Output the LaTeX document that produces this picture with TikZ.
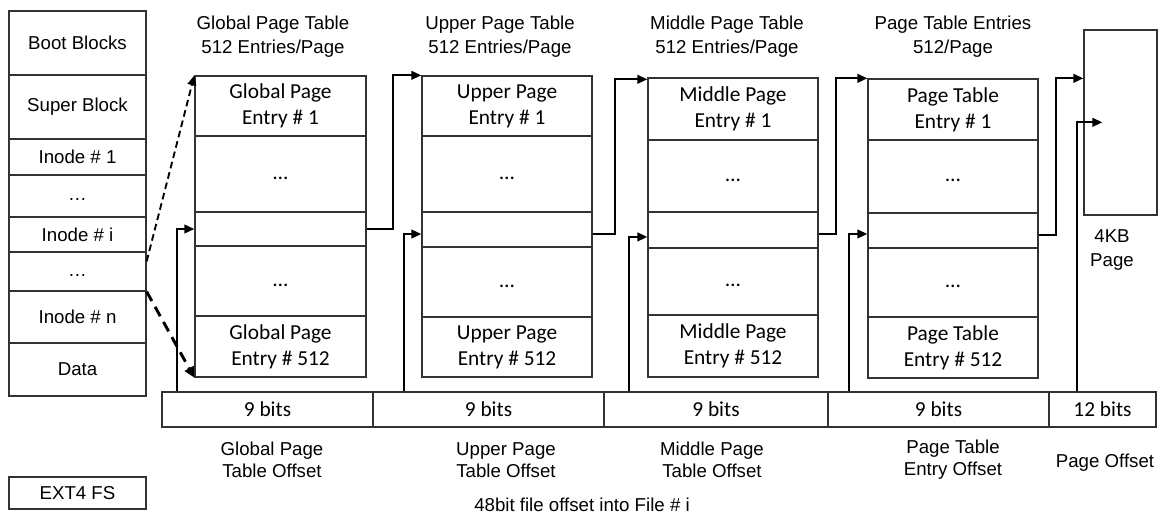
\documentclass[tikz,border=0pt]{standalone}
\usepackage{fontspec}
\setmainfont{Liberation Sans}
\newfontfamily\calfont{Carlito}
\usetikzlibrary{arrows.meta,calc}

% \cellat{style}{name}{x1}{y1}{x2}{y2}{text}: a box spanning two corners, text centred
\newcommand\cellat[7]{%
  \pgfmathsetmacro\cellw{(#5-#3)*0.75}%
  \pgfmathsetmacro\cellh{(#6-#4)*0.75}%
  \node[#1, minimum width=\cellw pt, minimum height=\cellh pt] (#2)
    at ({(#3+#5)/2},{(#4+#6)/2}) {#7};}

\begin{document}
\begin{tikzpicture}[x=0.75pt,y=-0.75pt,
  cell/.style={draw=black!80, line width=1pt, inner sep=0pt, align=center,
    font=\fontsize{14}{18}\selectfont},
  entry/.style={cell, font=\calfont\fontsize{16}{19.5}\selectfont},
  txt/.style={inner sep=0pt, align=center, font=\fontsize{14}{18}\selectfont},
  link/.style={line width=1.5pt, -{Triangle[length=7.5pt,width=6.5pt]}},
  fslink/.style={line width=1.4pt, dash pattern=on 5pt off 3pt, -{Triangle[length=7.5pt,width=6.5pt]}},
  fslinkb/.style={line width=2.2pt, dash pattern=on 8pt off 5pt, -{Triangle[length=8pt,width=7.5pt]}}
]
\useasboundingbox (0,0) rectangle (1160,514);

% file system layout
\cellat{cell}{boot}{9}{11}{146}{75}{Boot Blocks}
\cellat{cell}{super}{9}{75}{146}{139}{Super Block}
\cellat{cell}{ino1}{9}{139}{146}{175}{Inode \# 1}
\cellat{cell}{idots1}{9}{175}{146}{217}{\strut…}
\cellat{cell}{inoi}{9}{217}{146}{252}{Inode \# i}
\cellat{cell}{idots2}{9}{252}{146}{291}{\strut…}
\cellat{cell}{inon}{9}{291}{146}{343}{Inode \# n}
\cellat{cell}{data}{9}{343}{146}{396}{Data}
\cellat{cell}{ext4}{9}{477}{146}{509}{EXT4 FS}

% global page table
\node[txt] (gtitle) at (273,37) {Global Page Table\\512 Entries/Page};
\cellat{entry}{g1}{195}{76}{366}{136}{Global Page\\Entry \# 1}
\cellat{entry}{g2}{195}{136}{366}{212}{\strut…}
\cellat{entry}{g3}{195}{212}{366}{246}{}
\cellat{entry}{g4}{195}{246}{366}{316}{\strut…}
\cellat{entry}{g5}{195}{316}{366}{377}{Global Page\\Entry \# 512}

% upper page table
\node[txt] (utitle) at (500,37) {Upper Page Table\\512 Entries/Page};
\cellat{entry}{u1}{422}{76}{592}{136}{Upper Page\\Entry \# 1}
\cellat{entry}{u2}{422}{136}{592}{212}{\strut…}
\cellat{entry}{u3}{422}{212}{592}{247}{}
\cellat{entry}{u4}{422}{247}{592}{317}{\strut…}
\cellat{entry}{u5}{422}{317}{592}{377}{Upper Page\\Entry \# 512}

% middle page table
\node[txt] (mtitle) at (727,37) {Middle Page Table\\512 Entries/Page};
\cellat{entry}{m1}{648}{78}{818}{140}{Middle Page\\Entry \# 1}
\cellat{entry}{m2}{648}{140}{818}{212}{\strut…}
\cellat{entry}{m3}{648}{212}{818}{248}{}
\cellat{entry}{m4}{648}{248}{818}{315}{\strut…}
\cellat{entry}{m5}{648}{315}{818}{377}{Middle Page\\Entry \# 512}

% page table entries
\node[txt] (ptitle) at (953,37) {Page Table Entries\\512/Page};
\cellat{entry}{p1}{868}{79}{1038}{140}{Page Table\\Entry \# 1}
\cellat{entry}{p2}{868}{140}{1038}{213}{\strut…}
\cellat{entry}{p3}{868}{213}{1038}{248}{}
\cellat{entry}{p4}{868}{248}{1038}{317}{\strut…}
\cellat{entry}{p5}{868}{317}{1038}{378}{Page Table\\Entry \# 512}

% data page
\cellat{cell}{page}{1084}{30}{1157}{215}{}
\node[txt] (pagelbl) at (1112,250) {4KB\\Page};

% 48-bit offset split
\cellat{entry}{b1}{162}{392}{373}{427}{9 bits}
\cellat{entry}{b2}{373}{392}{604}{427}{9 bits}
\cellat{entry}{b3}{604}{392}{828}{427}{9 bits}
\cellat{entry}{b4}{828}{392}{1049}{427}{9 bits}
\cellat{entry}{b5}{1049}{392}{1156}{427}{12 bits}

\node[txt, font=\fontsize{14}{16.5}\selectfont] (l1) at (272,460) {Global Page\\Table Offset};
\node[txt, font=\fontsize{14}{16.5}\selectfont] (l2) at (506,460) {Upper Page\\Table Offset};
\node[txt, font=\fontsize{14}{16.5}\selectfont] (l3) at (712,460) {Middle Page\\Table Offset};
\node[txt, font=\fontsize{14}{16.5}\selectfont] (l4) at (953,460) {Page Table\\Entry Offset};
\node[txt] (l5) at (1105,463) {Page Offset};
\node[txt] (caption) at (582,505) {48bit file offset into File \# i};

% inode to its global page table
\draw[fslink]  ($(idots2.north east)+(0,10)$) -- (g1.north west);
\draw[fslinkb] (idots2.south east) -- (g5.south west);

% risers from the offset fields
\coordinate (gin) at ($(b1.north west)+(16,0)$);
\coordinate (uin) at ($(b2.north west)+(32,0)$);
\coordinate (min) at ($(b3.north west)+(26,0)$);
\coordinate (pin) at ($(b4.north west)+(22,0)$);
\coordinate (oin) at ($(b5.north west)+(29,0)$);
\coordinate (poff) at ($(page.north west)+(19,93)$);

\draw[link] (gin) |- (g3.west);
\draw[link] (uin) |- ([yshift=-3.4pt]u3.west);
\draw[link] (min) |- ([yshift=-5.2pt]m3.west);
\draw[link] (pin) |- ([yshift=-2.6pt]p3.west);
\draw[link] (oin) |- (poff);

% walk from one table to the next
\draw[link] (g3.east) -- ++(26,0) |- (u1.north west);
\draw[link] ([yshift=-3.4pt]u3.east) -- ++(22,0) |- ([yshift=-1.5pt]m1.north west);
\draw[link] ([yshift=-3pt]m3.east) -- ++(17,0) |- (p1.north west);
\draw[link] ([yshift=-3.4pt]p3.east) -- ++(17,0) |- (page.west |- p1.north west);
\end{tikzpicture}
\end{document}
